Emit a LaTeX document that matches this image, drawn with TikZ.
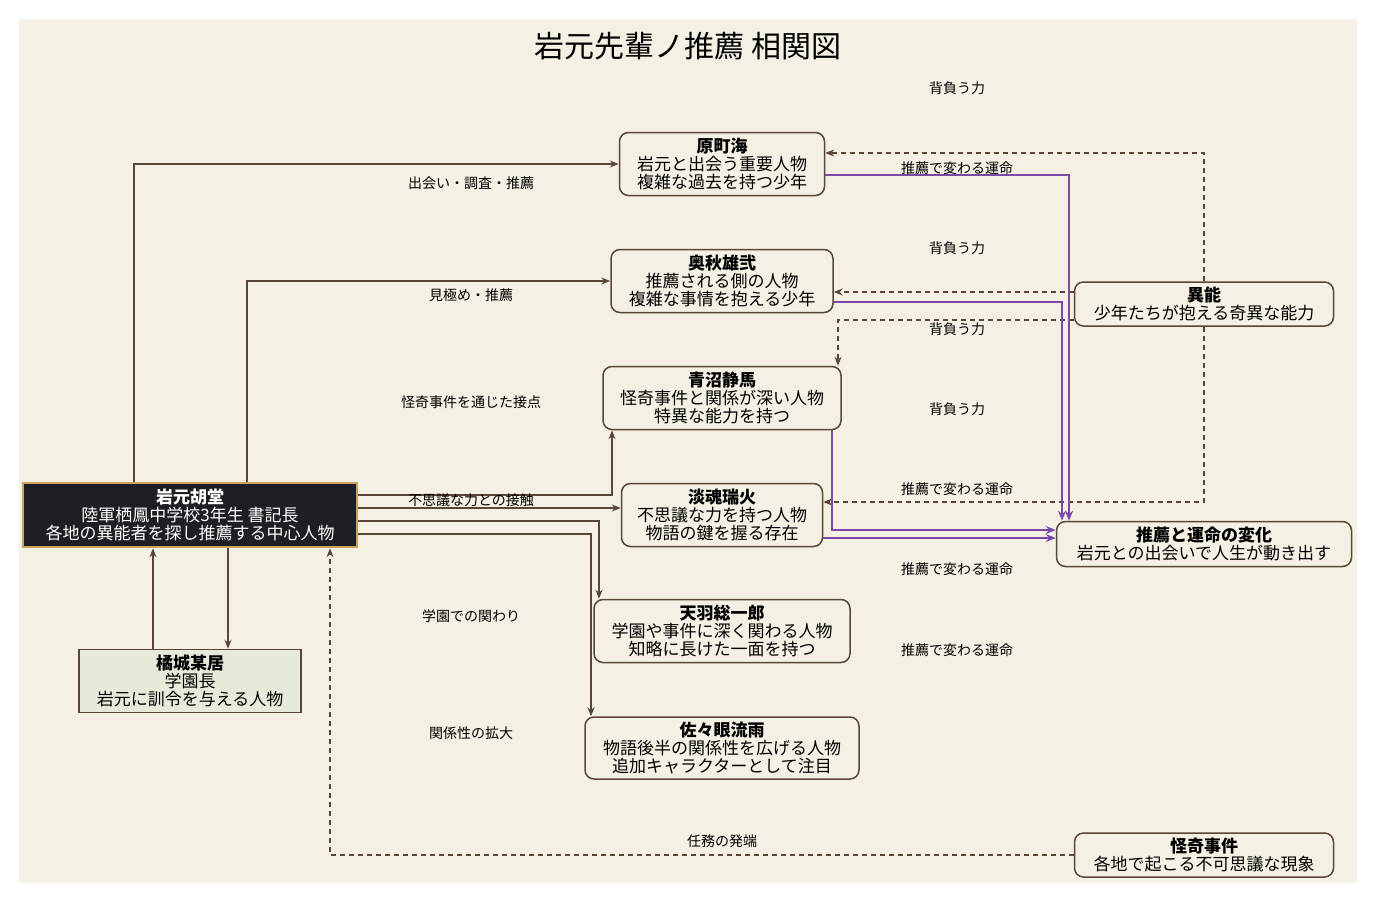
\documentclass[tikz,border=0pt]{standalone}
\usepackage{fontspec}
\setmainfont{Noto Sans CJK JP}
\usetikzlibrary{arrows.meta}
\definecolor{bg}{HTML}{F5F0E4}
\definecolor{ln}{HTML}{5A4636}
\definecolor{pp}{HTML}{7B4AA8}
\definecolor{dk}{HTML}{1E1F24}
\definecolor{gd}{HTML}{C9A45C}
\definecolor{gr}{HTML}{E6EAD8}
\begin{document}
\begin{tikzpicture}[x=1pt,y=-1pt,
 box/.style={draw=ln,line width=1.5pt,fill=bg,rounded corners=9pt,align=center,inner sep=0pt,font=\fontsize{17}{18}\selectfont},
 lab/.style={font=\fontsize{14}{16}\selectfont,inner sep=1pt},
 con/.style={draw=ln,line width=1.4pt,-{Stealth[length=9pt,width=7pt]}},
 dsh/.style={con,dashed,dash pattern=on 5pt off 4pt},
 pur/.style={draw=pp,line width=1.8pt,-{Stealth[length=10pt,width=8pt]}}]
\useasboundingbox (0,0) rectangle (1376,902);
\fill[bg] (19,19) rectangle (1357,883);
\node[font=\fontsize{30}{32}\selectfont] (title) at (688,46) {岩元先輩ノ推薦 相関図};
\node[box,minimum width=205pt,minimum height=63pt] (hara) at (722,164) {\textbf{原町海}\\岩元と出会う重要人物\\複雑な過去を持つ少年};
\node[box,minimum width=222pt,minimum height=63pt] (oku) at (722,281) {\textbf{奥秋雄弐}\\推薦される側の人物\\複雑な事情を抱える少年};
\node[box,minimum width=238pt,minimum height=63pt] (ao) at (722,398) {\textbf{青沼静馬}\\怪奇事件と関係が深い人物\\特異な能力を持つ};
\node[box,minimum width=201pt,minimum height=63pt] (tan) at (722,515) {\textbf{淡魂瑞火}\\不思議な力を持つ人物\\物語の鍵を握る存在};
\node[box,minimum width=256pt,minimum height=63pt] (ama) at (722,631) {\textbf{天羽総一郎}\\学園や事件に深く関わる人物\\知略に長けた一面を持つ};
\node[box,minimum width=274pt,minimum height=62pt] (sasa) at (722,748) {\textbf{佐々眼流雨}\\物語後半の関係性を広げる人物\\追加キャラクターとして注目};
\node[box,rounded corners=0pt,draw=gd,fill=dk,text=white,line width=2.5pt,minimum width=334pt,minimum height=64pt] (iwa) at (190,515) {\textbf{岩元胡堂}\\陸軍栖鳳中学校3年生 書記長\\各地の異能者を探し推薦する中心人物};
\node[box,rounded corners=0pt,fill=gr,minimum width=222pt,minimum height=63pt] (tachi) at (190,681) {\textbf{橘城某居}\\学園長\\岩元に訓令を与える人物};
\node[box,minimum width=259pt,minimum height=44pt] (inou) at (1204,304) {\textbf{異能}\\少年たちが抱える奇異な能力};
\node[box,minimum width=295pt,minimum height=45pt] (sui) at (1204,544) {\textbf{推薦と運命の変化}\\岩元との出会いで人生が動き出す};
\node[box,minimum width=259pt,minimum height=44pt] (kai) at (1204,855) {\textbf{怪奇事件}\\各地で起こる不可思議な現象};
% from Iwamoto
\draw[con] (iwa.north -| 134,0) |- (hara.west);
\draw[con] (iwa.north -| 247,0) |- (oku.west);
\draw[con] (iwa.east |- 0,495) -| (ao.south -| 612,0);
\draw[con] (iwa.east |- 0,508) -- (tan.west |- 0,508);
\draw[con] (iwa.east |- 0,521) -| (ama.north -| 599,0);
\draw[con] (iwa.east |- 0,534) -| (sasa.north -| 591,0);
\draw[con] (tachi.north -| 153,0) -- (iwa.south -| 153,0);
\draw[con] (iwa.south -| 228,0) -- (tachi.north -| 228,0);
\draw[dsh] (kai.west) -| (iwa.south -| 330,0);
% inou
\draw[dsh] (inou.north) |- (hara.east |- 0,153);
\draw[dsh] (inou.west |- 0,292) -- (oku.east |- 0,292);
\draw[dsh] (inou.west |- 0,320) -| (ao.north -| 838,0);
\draw[dsh] (inou.south) |- (tan.east |- 0,502);
% purple
\draw[pur] (hara.east |- 0,175) -| (sui.north -| 1069,0);
\draw[pur] (oku.east |- 0,302) -| (sui.north -| 1062,0);
\draw[pur] (ao.south -| 832,0) |- (sui.west |- 0,530);
\draw[pur] (tan.east |- 0,538) -- (sui.west |- 0,538);
% labels
\node[lab] (l1) at (471,183) {出会い・調査・推薦};
\node[lab] (l2) at (471,295) {見極め・推薦};
\node[lab] (l3) at (471,402) {怪奇事件を通じた接点};
\node[lab] (l4) at (471,500) {不思議な力との接触};
\node[lab] (l5) at (471,616) {学園での関わり};
\node[lab] (l6) at (471,733) {関係性の拡大};
\node[lab] (l7) at (722,841) {任務の発端};
\node[lab] (l8) at (957,88) {背負う力};
\node[lab] (l9) at (957,248) {背負う力};
\node[lab] (l10) at (957,329) {背負う力};
\node[lab] (l11) at (957,409) {背負う力};
\node[lab] (l12) at (957,168) {推薦で変わる運命};
\node[lab] (l13) at (957,489) {推薦で変わる運命};
\node[lab] (l14) at (957,569) {推薦で変わる運命};
\node[lab] (l15) at (957,650) {推薦で変わる運命};
\end{tikzpicture}
\end{document}
